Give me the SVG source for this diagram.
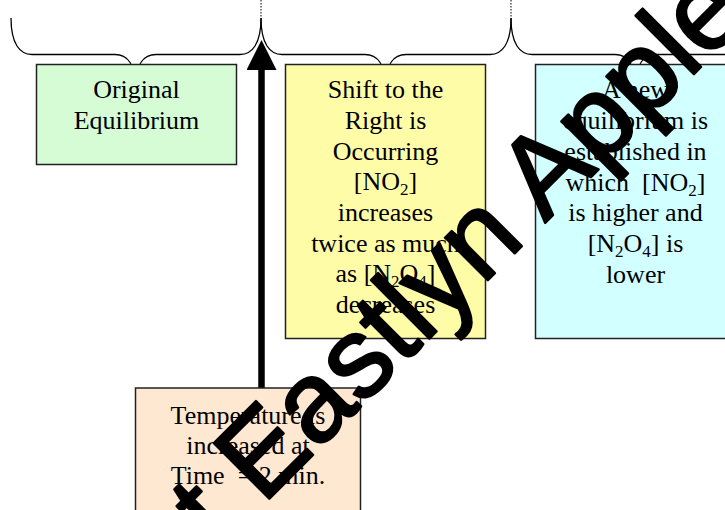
<svg xmlns="http://www.w3.org/2000/svg" width="725" height="510" viewBox="0 0 725 510">
<style>
.box{stroke:#222;stroke-width:1.5}
.t{font-family:"Liberation Serif","Times New Roman",serif;font-size:26px;fill:#000;text-anchor:middle}
.brace{fill:none;stroke:#000;stroke-width:1.3}
.dot{stroke:#000;stroke-width:1;stroke-dasharray:1.5 1.5}
.wm{font-family:"Liberation Sans",Arial,sans-serif;font-size:114px;fill:#000;stroke:#000;stroke-width:2.5;stroke-linejoin:round}
</style>
<defs>
<marker id="ah" markerWidth="30" markerHeight="30" refX="0" refY="15" orient="auto" markerUnits="userSpaceOnUse">
<path d="M0,0 L30,15 L0,30 Z" fill="#000"/>
</marker>
</defs>
<rect width="725" height="510" fill="#fff"/>
<g id="connectors">
<line class="dot" x1="261" y1="0" x2="261" y2="18"/>
<line class="dot" x1="511" y1="0" x2="511" y2="18"/>
<path class="brace" d="M11,18 C11,44 20,54.5 32,54.5 H115 C127,54.5 135.5,64 135.5,87 M135.5,87 C135.5,64 144,54.5 156,54.5 H240 C252,54.5 261,44 261,18"/>
<path class="brace" d="M261,18 C261,44 270,54.5 282,54.5 H365 C377,54.5 385.5,64 385.5,87 M385.5,87 C385.5,64 394,54.5 406,54.5 H490 C502,54.5 511,44 511,18"/>
<path class="brace" d="M511,18 C511,44 520,54.5 532,54.5 H615 C627,54.5 635.5,64 635.5,87 M635.5,87 C635.5,64 644,54.5 656,54.5 H740 C752,54.5 761,44 761,18"/>
<line x1="261.5" y1="388" x2="261.5" y2="70" stroke="#000" stroke-width="6.5" marker-end="url(#ah)"/>
</g>
<g id="original">
<rect class="box" x="36.5" y="64.5" width="200" height="100" fill="#d5fcd5"/>
<text class="t" x="136.5" y="98.3">Original</text>
<text class="t" x="136.5" y="129">Equilibrium</text>
</g>
<g id="shift">
<rect class="box" x="285.5" y="64.5" width="200" height="274" fill="#fffca8"/>
<text class="t" x="385.5" y="98.3">Shift to the</text>
<text class="t" x="385.5" y="129">Right is</text>
<text class="t" x="385.5" y="159.7">Occurring</text>
<text class="t" x="385.5" y="190.4">[NO<tspan font-size="17" dy="5">2</tspan><tspan dy="-5">]</tspan></text>
<text class="t" x="385.5" y="221">increases</text>
<text class="t" x="385.5" y="251.7">twice as much</text>
<text class="t" x="385.5" y="282.4">as [N<tspan font-size="17" dy="5">2</tspan><tspan dy="-5">O</tspan><tspan font-size="17" dy="5">4</tspan><tspan dy="-5">]</tspan></text>
<text class="t" x="385.5" y="313">decreases</text>
</g>
<g id="new-equilibrium">
<rect class="box" x="535.5" y="64.5" width="200" height="274" fill="#d2ffff"/>
<text class="t" x="635.5" y="98">A new</text>
<text class="t" x="635.5" y="129">equilibrium is</text>
<text class="t" x="635.5" y="160">established in</text>
<text class="t" x="635.5" y="190.5" xml:space="preserve">which  [NO<tspan font-size="17" dy="5">2</tspan><tspan dy="-5">]</tspan></text>
<text class="t" x="635.5" y="221">is higher and</text>
<text class="t" x="635.5" y="252">[N<tspan font-size="17" dy="5">2</tspan><tspan dy="-5">O</tspan><tspan font-size="17" dy="5">4</tspan><tspan dy="-5">] is</tspan></text>
<text class="t" x="635.5" y="282.5">lower</text>
</g>
<g id="temperature">
<rect class="box" x="135.5" y="388" width="225" height="140" fill="#ffe8d2"/>
<text class="t" x="248" y="423.5">Temperature is</text>
<text class="t" x="248" y="453.5">increased at</text>
<text class="t" x="248" y="483.5" xml:space="preserve">Time  = 2 min.</text>
</g>
<g id="watermark">
<text class="wm" transform="translate(218,550) rotate(-45)" x="0" y="0">t Eastlyn Apple</text>
</g>
</svg>
